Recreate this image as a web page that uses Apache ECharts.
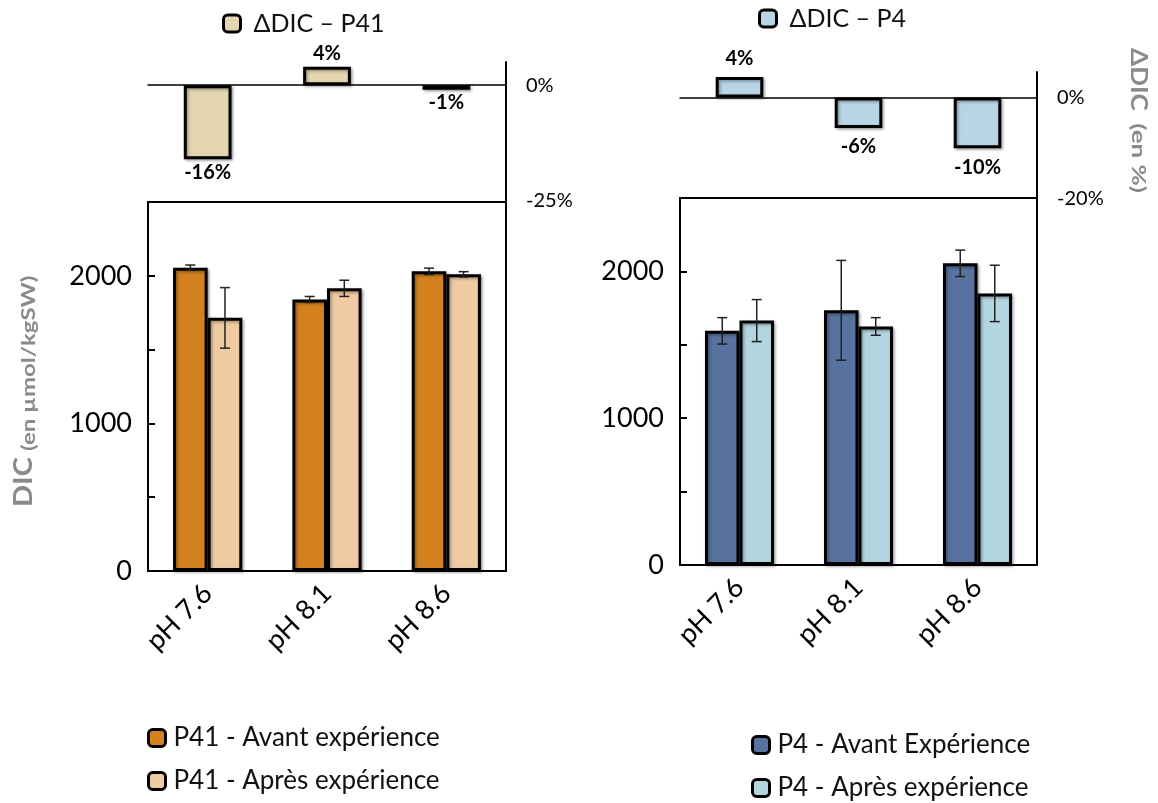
<!DOCTYPE html>
<html>
<head>
<meta charset="utf-8">
<script src="https://cdn.jsdelivr.net/npm/echarts@6/dist/echarts.min.js"></script>
<style>html,body{margin:0;padding:0;background:#fff}#c{width:1158px;height:803px}</style>
</head>
<body>
<div id="c"></div>
<script>
// ---- data ----
const categories = ['pH 7.6', 'pH 8.1', 'pH 8.6'];
const deltaP41 = [-16, 4, -1];
const deltaP4 = [4, -6, -10];
const p41Avant = [2055, 1840, 2030];
const p41AvantErr = [18, 20, 22];
const p41Apres = [1715, 1915, 2010];
const p41ApresErr = [205, 55, 18];
const p4Avant = [1595, 1735, 2055];
const p4AvantErr = [90, 340, 90];
const p4Apres = [1665, 1625, 1850];
const p4ApresErr = [143, 60, 192];
const dicTicks = [0, 1000, 2000];
const deltaTicksP41 = [-25, 0];
const deltaTicksP4 = [-20, 0];

const FONT = 'Lato';
const GREY = '#8a8a8a';
const chart = echarts.init(document.getElementById('c'));

function deltaData(arr) {
  return arr.map(v => ({ value: v, label: { position: v < 0 ? 'bottom' : 'top' } }));
}
function errData(vals, errs, slot) {
  return vals.map((v, i) => [i, v, errs[i], slot]);
}
function errRender(params, api) {
  const i = api.value(0), v = api.value(1), e = api.value(2), slot = api.value(3);
  const band = api.size([1, 0])[0];
  const bw = band * 0.29;
  const c = api.coord([i, v]);
  const x = c[0] + (slot === 0 ? -bw / 2 : bw / 2);
  const yHi = api.coord([i, v + e])[1];
  const yLo = api.coord([i, v - e])[1];
  const cap = 5;
  const st = { stroke: '#222', lineWidth: 1.5 };
  return { type: 'group', children: [
    { type: 'line', shape: { x1: x, y1: yHi, x2: x, y2: yLo }, style: st },
    { type: 'line', shape: { x1: x - cap, y1: yHi, x2: x + cap, y2: yHi }, style: st },
    { type: 'line', shape: { x1: x - cap, y1: yLo, x2: x + cap, y2: yLo }, style: st }
  ]};
}
const barShadow = { shadowBlur: 3, shadowColor: 'rgba(0,0,0,0.35)', shadowOffsetX: 1.5, shadowOffsetY: 1.5 };
function mainBar(name, data, color, ax) {
  return { type: 'bar', name, data, xAxisIndex: ax, yAxisIndex: ax, barWidth: '29%', barGap: '0%',
    itemStyle: Object.assign({ color, borderColor: '#000', borderWidth: 3 }, barShadow) };
}
function deltaBar(name, data, color, ax, dist) {
  return { type: 'bar', name, data: deltaData(data), xAxisIndex: ax, yAxisIndex: ax, barWidth: '40%',
    itemStyle: Object.assign({ color, borderColor: '#000', borderWidth: 3 }, barShadow),
    label: { show: true, formatter: p => p.value + '%', fontFamily: FONT, fontWeight: 'bold', fontSize: 20, color: '#000', distance: dist } };
}
function catAxis(grid, showLabel) {
  return { type: 'category', gridIndex: grid, data: categories, boundaryGap: true,
    axisLine: { show: true, onZero: true, lineStyle: { color: '#000', width: showLabel ? 2 : 1.5 } },
    axisTick: { show: false },
    axisLabel: { show: showLabel, rotate: 45, fontFamily: FONT, fontSize: 27, color: '#000', margin: 18 } };
}
function dicAxis(grid) {
  return { type: 'value', gridIndex: grid, min: 0, max: 2500, interval: 500,
    axisLine: { show: true, lineStyle: { color: '#000', width: 2 } },
    axisTick: { show: true, inside: true, length: 7, lineStyle: { color: '#000', width: 2 } },
    splitLine: { show: false },
    axisLabel: { fontFamily: FONT, fontSize: 27, color: '#000', margin: 16,
      formatter: v => dicTicks.indexOf(v) >= 0 ? String(v) : '' } };
}
function deltaAxis(grid, min, ticks) {
  return { type: 'value', gridIndex: grid, position: 'right', min, max: 5, interval: 5,
    axisLine: { show: true, lineStyle: { color: '#000', width: 2 } },
    axisTick: { show: false }, splitLine: { show: false },
    axisLabel: { fontFamily: FONT, fontSize: 20, color: '#000', margin: 20,
      formatter: v => ticks.indexOf(v) >= 0 ? v + '%' : '' } };
}
const topLegendText = { fontFamily: FONT, fontSize: 25, color: '#111', padding: [0, 0, 0, 8] };
const legendText = { fontFamily: FONT, fontSize: 26, color: '#111', lineHeight: 26, padding: [0, 0, 0, 3] };

const option = {
  animation: false,
  backgroundColor: '#fff',
  grid: [
    { left: 148, top: 62, width: 358, height: 139 },
    { left: 148, top: 202, width: 358, height: 369, show: true, borderColor: '#000', borderWidth: 2 },
    { left: 680, top: 72, width: 357, height: 127 },
    { left: 680, top: 198, width: 357, height: 367, show: true, borderColor: '#000', borderWidth: 2 }
  ],
  xAxis: [catAxis(0, false), catAxis(1, true), catAxis(2, false), catAxis(3, true)],
  yAxis: [deltaAxis(0, -25, deltaTicksP41), dicAxis(1), deltaAxis(2, -20, deltaTicksP4), dicAxis(3)],
  legend: [
    { data: ['ΔDIC – P41'], left: 222, top: 11, padding: 0, itemWidth: 17, itemHeight: 17, textStyle: topLegendText,
      itemStyle: { borderWidth: 3 } },
    { data: ['ΔDIC – P4'], left: 758, top: 6, padding: 0, itemWidth: 17, itemHeight: 17, textStyle: topLegendText,
      itemStyle: { borderWidth: 3 } },
    { data: ['P41 - Avant expérience', 'P41 - Après expérience'], orient: 'vertical', left: 147, top: 725, padding: 0,
      itemGap: 17, itemWidth: 17, itemHeight: 17, textStyle: legendText, itemStyle: { borderWidth: 3 } },
    { data: ['P4 - Avant Expérience', 'P4 - Après expérience'], orient: 'vertical', left: 751, top: 732, padding: 0,
      itemGap: 17, itemWidth: 17, itemHeight: 17, textStyle: legendText, itemStyle: { borderWidth: 3 } }
  ],
  graphic: [
    { type: 'text', x: 37, y: 507, rotation: Math.PI / 2, scaleY: 0.9,
      style: { text: 'DIC', align: 'left', verticalAlign: 'bottom', fill: GREY,
        fontFamily: FONT, fontWeight: 'bold', fontSize: 29 } },
    { type: 'text', x: 38, y: 451, rotation: Math.PI / 2, scaleY: 0.8,
      style: { text: '(en µmol/kgSW)', align: 'left', verticalAlign: 'bottom', fill: GREY,
        fontFamily: FONT, fontWeight: 'bold', fontSize: 24 } },
    { type: 'text', x: 1127, y: 48, rotation: -Math.PI / 2, scaleY: 0.85,
      style: { text: 'ΔDIC', align: 'left', verticalAlign: 'bottom', fill: GREY,
        fontFamily: FONT, fontWeight: 'bold', fontSize: 26 } },
    { type: 'text', x: 1129, y: 193, rotation: -Math.PI / 2, scaleY: 0.72,
      style: { text: '(en %)', align: 'right', verticalAlign: 'bottom', fill: GREY,
        fontFamily: FONT, fontWeight: 'bold', fontSize: 26 } }
  ],
  series: [
    deltaBar('ΔDIC – P41', deltaP41, '#e4d6b0', 0, 3),
    deltaBar('ΔDIC – P4', deltaP4, '#b8d5e8', 2, 9),
    mainBar('P41 - Avant expérience', p41Avant, '#d4821f', 1),
    mainBar('P41 - Après expérience', p41Apres, '#f0caa2', 1),
    { type: 'custom', xAxisIndex: 1, yAxisIndex: 1, renderItem: errRender, z: 5,
      data: errData(p41Avant, p41AvantErr, 0).concat(errData(p41Apres, p41ApresErr, 1)) },
    mainBar('P4 - Avant Expérience', p4Avant, '#58739f', 3),
    mainBar('P4 - Après expérience', p4Apres, '#b2d5e0', 3),
    { type: 'custom', xAxisIndex: 3, yAxisIndex: 3, renderItem: errRender, z: 5,
      data: errData(p4Avant, p4AvantErr, 0).concat(errData(p4Apres, p4ApresErr, 1)) }
  ]
};
chart.setOption(option);
</script>
</body>
</html>
